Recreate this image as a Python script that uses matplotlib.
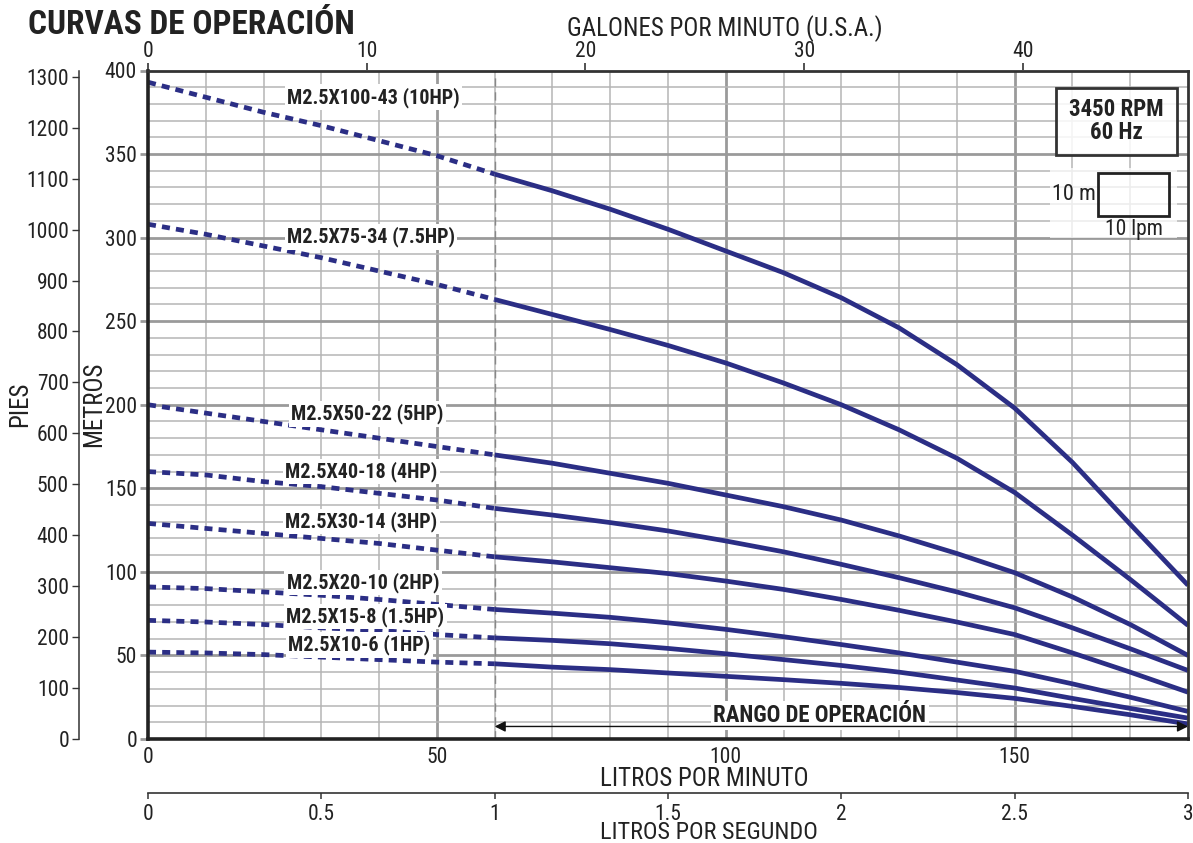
import matplotlib
matplotlib.use('Agg')
import matplotlib.pyplot as plt
from matplotlib import font_manager as fm
from matplotlib.patches import Rectangle
import numpy as np

# ---------------- data ----------------
flow_lpm = [0, 10, 20, 30, 40, 50, 60, 70, 80, 90, 100, 110, 120, 130, 140, 150, 160, 170, 180]
h_10hp = [393, 384, 375, 367, 358, 349, 338, 328, 317, 305, 292, 279, 264, 246, 224, 198, 165.5, 128.5, 92]
h_7_5hp = [308, 302, 295, 288, 280, 272, 263, 254, 245, 235.5, 225, 213, 200, 185, 168, 147.5, 122, 95.5, 68]
h_5hp = [200, 195, 190, 185, 180, 175, 170, 165, 159, 153, 146, 139, 131, 121.5, 111, 99.5, 85, 68.5, 50]
h_4hp = [160, 158, 154, 151, 147, 143, 138, 134, 129.5, 124.5, 118.5, 112, 104.5, 96.5, 88, 78.5, 66.5, 54, 41]
h_3hp = [129, 126, 123, 120, 117, 113, 109, 106, 102.5, 99, 94.5, 89.5, 83.5, 77, 70, 62.5, 51.5, 40, 28]
h_2hp = [91, 90, 88, 86, 83.5, 80.5, 77.5, 75.3, 72.8, 69.5, 65.6, 61.2, 56.5, 51.5, 46, 40.5, 33, 25, 16.5]
h_1_5hp = [71, 70, 68.5, 66.5, 65, 62.5, 60.5, 59, 57, 54.2, 51, 47.5, 44, 40, 35.3, 30.5, 24.3, 18.3, 12.5]
h_1hp = [52, 51.5, 50.5, 49, 47.5, 46, 45, 43, 41.5, 39.5, 37.5, 35.5, 33.3, 30.8, 27.8, 24.3, 19.5, 14.5, 9]

model_labels = ["M2.5X100-43 (10HP)", "M2.5X75-34 (7.5HP)", "M2.5X50-22 (5HP)", "M2.5X40-18 (4HP)",
                "M2.5X30-14 (3HP)", "M2.5X20-10 (2HP)", "M2.5X15-8 (1.5HP)", "M2.5X10-6 (1HP)"]
label_lpm = [39.0, 38.6, 38.0, 36.9, 36.9, 37.2, 37.6, 36.6]
label_m = [384.0, 300.5, 194.5, 160.0, 130.0, 93.5, 73.3, 56.3]

operating_start_lpm = 60
lpm_ticks = [0, 50, 100, 150]
m_ticks = [0, 50, 100, 150, 200, 250, 300, 350, 400]
ft_ticks = list(range(0, 1400, 100))
gpm_ticks = [0, 10, 20, 30, 40]
lps_ticks = [0, 0.5, 1, 1.5, 2, 2.5, 3]
lps_labels = ['0', '0.5', '1', '1.5', '2', '2.5', '3']

# ---------------- fonts ----------------
def pick(fams):
    for f in fams:
        try:
            fm.findfont(fm.FontProperties(family=f), fallback_to_default=False)
            return f
        except Exception:
            pass
    return 'DejaVu Sans'

NARROW = pick(['Liberation Sans Narrow', 'Roboto Condensed', 'Open Sans Condensed', 'Liberation Sans'])
plt.rcParams['font.family'] = [NARROW, 'DejaVu Sans']

PX = 0.72  # points per pixel at 100 dpi

W, H = 1193, 843
fig = plt.figure(figsize=(W / 100, H / 100), dpi=100)
L, R, T, B = 148, 1188, 70.5, 739
ax = fig.add_axes([L / W, 1 - B / H, (R - L) / W, (B - T) / H])

XMAX, YMAX = 180, 400
ax.set_xlim(0, XMAX)
ax.set_ylim(0, YMAX)

TXT = '#222222'
CURVE = '#2b2e85'
TICK_FS = 15.5
LAB_FS = 18

# grid
for x in range(10, XMAX, 10):
    major = (x % 50 == 0)
    ax.axvline(x, color='#9a9a9a' if major else '#b5b5b5', lw=2.0 if major else 1.1, zorder=1)
for y in range(10, YMAX, 10):
    major = (y % 50 == 0)
    ax.axhline(y, color='#9a9a9a' if major else '#b5b5b5', lw=2.0 if major else 1.1, zorder=1)

ax.axvline(operating_start_lpm, color='#888888', lw=1.0, ls=(0, (6, 4)), zorder=2)

# curves
flow = np.array(flow_lpm)
all_heads = [h_10hp, h_7_5hp, h_5hp, h_4hp, h_3hp, h_2hp, h_1_5hp, h_1hp]
for h in all_heads:
    h = np.array(h)
    dmask = flow <= operating_start_lpm
    smask = flow >= operating_start_lpm
    ax.plot(flow[dmask], h[dmask], color=CURVE, lw=3.4, ls=(0, (1.7, 1.3)),
            dash_capstyle='butt', zorder=4, clip_on=False)
    ax.plot(flow[smask], h[smask], color=CURVE, lw=3.4, solid_capstyle='butt',
            solid_joinstyle='round', zorder=4, clip_on=False)

for txt, lx, ly in zip(model_labels, label_lpm, label_m):
    ax.text(lx, ly, txt, ha='center', va='center', fontsize=14.5, fontweight='bold',
            color=TXT, zorder=5,
            bbox=dict(boxstyle='square,pad=0.12', fc='white', ec='none'))

# operating range
ax.annotate('', xy=(XMAX, 7.5), xytext=(operating_start_lpm, 7.5),
            arrowprops=dict(arrowstyle='<|-|>', color='#111111', lw=1.0,
                            mutation_scale=16, shrinkA=0, shrinkB=0), zorder=6)
ax.text(116.3, 14, 'RANGO DE OPERACIÓN', ha='center', va='center', fontsize=16.5,
        fontweight='bold', color=TXT, zorder=5,
        bbox=dict(boxstyle='square,pad=0.12', fc='white', ec='none'))

# spines
for s in ['left', 'bottom']:
    ax.spines[s].set_linewidth(2.6)
    ax.spines[s].set_color('#222222')
for s in ['top', 'right']:
    ax.spines[s].set_linewidth(2.0)
    ax.spines[s].set_color('#333333')
for s in ax.spines.values():
    s.set_zorder(7)

ax.set_xticks(lpm_ticks)
ax.set_yticks(m_ticks)
ax.tick_params(axis='x', length=0, pad=6, labelsize=TICK_FS, colors=TXT)
ax.tick_params(axis='y', length=8 * PX, width=2.0, color='#999999', pad=3 * PX,
               labelsize=TICK_FS, labelcolor=TXT)
ax.set_xlabel('LITROS POR MINUTO', fontsize=LAB_FS, color=TXT, labelpad=-1, x=0.535)
ax.set_ylabel('METROS', fontsize=LAB_FS, color=TXT, labelpad=-1)

# feet axis
axf = ax.twinx()
axf.set_ylim(0, YMAX * 3.28084)
axf.spines['right'].set_visible(False)
axf.spines['top'].set_visible(False)
axf.spines['bottom'].set_visible(False)
axf.spines['left'].set_visible(True)
axf.spines['left'].set_position(('outward', 69 * PX))
axf.spines['left'].set_linewidth(1.1)
axf.spines['left'].set_color('#333333')
axf.yaxis.set_ticks_position('left')
axf.yaxis.set_label_position('left')
axf.set_yticks(ft_ticks)
axf.tick_params(axis='y', length=7 * PX, width=1.0, color='#333333', pad=3 * PX,
                labelsize=TICK_FS, labelcolor=TXT)
axf.set_ylabel('PIES', fontsize=LAB_FS, color=TXT, labelpad=-4.5)

# gallons axis (top)
LPM_PER_GAL = 3.78541
axg = ax.secondary_xaxis('top', functions=(lambda v: v / LPM_PER_GAL, lambda v: v * LPM_PER_GAL))
axg.set_xticks(gpm_ticks)
axg.tick_params(axis='x', length=7 * PX, width=1.2, color='#333333', pad=1,
                labelsize=TICK_FS, labelcolor=TXT)
axg.spines['top'].set_visible(False)
axg.set_xlabel('GALONES POR MINUTO (U.S.A.)', fontsize=LAB_FS, color=TXT, labelpad=3.5, x=0.555)

# liters per second axis (bottom)
axs = ax.secondary_xaxis('bottom', functions=(lambda v: v / 60.0, lambda v: v * 60.0))
axs.spines['bottom'].set_position(('outward', 54 * PX))
axs.spines['bottom'].set_linewidth(1.2)
axs.spines['bottom'].set_color('#333333')
axs.set_xticks(lps_ticks)
axs.set_xticklabels(lps_labels)
axs.tick_params(axis='x', length=6 * PX, width=1.1, color='#333333', pad=3.5,
                labelsize=TICK_FS, labelcolor=TXT)
axs.set_xlabel('LITROS POR SEGUNDO', fontsize=17.5, color=TXT, labelpad=-2.5, x=0.539)

# title
fig.text(28 / W, 1 - 25 / H, 'CURVAS DE OPERACIÓN', fontsize=24, fontweight='bold',
         color=TXT, ha='left', va='center')

# info boxes (axes-fraction positions)
def fx(px):
    return (px - L) / (R - L)

def fy(py):
    return (B - py) / (B - T)

ax.add_patch(Rectangle((fx(1056), fy(155)), fx(1177) - fx(1056), fy(88) - fy(155),
                       transform=ax.transAxes, fc=(1, 1, 1, 0.85), ec='#333333', lw=2.0, zorder=8))
ax.text(fx(1116.5), fy(121), '3450 RPM\n60 Hz', transform=ax.transAxes, ha='center', va='center',
        fontsize=16.5, fontweight='bold', color=TXT, linespacing=0.95, zorder=9)
ax.add_patch(Rectangle((fx(1050), fy(238)), fx(1177) - fx(1050), fy(168) - fy(238),
                       transform=ax.transAxes, fc=(1, 1, 1, 0.75), ec='none', zorder=8))
ax.add_patch(Rectangle((fx(1098), fy(216)), fx(1169) - fx(1098), fy(173) - fy(216),
                       transform=ax.transAxes, fc='none', ec='#222222', lw=2.0, zorder=9))
ax.text(fx(1096), fy(194), '10 m', transform=ax.transAxes, ha='right', va='center',
        fontsize=16, color=TXT, zorder=9)
ax.text(fx(1134), fy(229), '10 lpm', transform=ax.transAxes, ha='center', va='center',
        fontsize=15.5, color=TXT, zorder=9)

fig.savefig('out.png', dpi=100, facecolor='white')
